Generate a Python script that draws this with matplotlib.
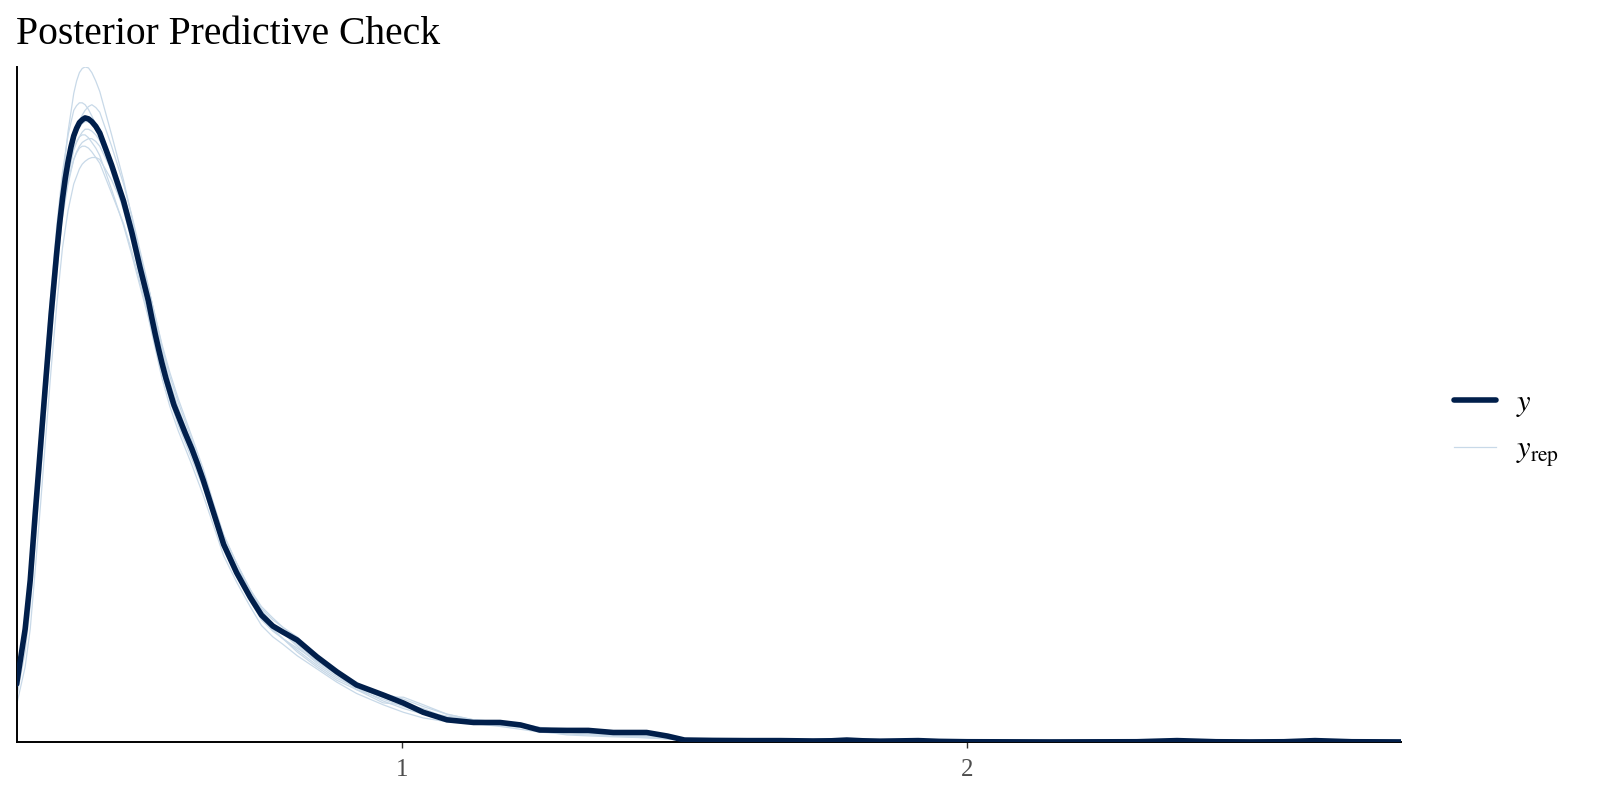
import matplotlib
matplotlib.use("Agg")
import matplotlib.pyplot as plt
from matplotlib.lines import Line2D

plt.rcParams["font.family"] = ["Liberation Serif", "DejaVu Serif"]
plt.rcParams["mathtext.fontset"] = "stix"

# observed density (y)
y_x = [0.319, 0.334, 0.343, 0.352, 0.361, 0.370, 0.380, 0.390, 0.395, 0.400,
       0.405, 0.410, 0.415, 0.420, 0.425, 0.430, 0.435, 0.440, 0.446, 0.452,
       0.459, 0.466, 0.476, 0.487, 0.498, 0.508, 0.523, 0.537, 0.552, 0.558,
       0.564, 0.570, 0.576, 0.583, 0.590, 0.597, 0.605, 0.617, 0.629, 0.639,
       0.649, 0.667, 0.685, 0.708, 0.732, 0.752, 0.772, 0.790, 0.815, 0.850,
       0.885, 0.920, 0.967, 1.003, 1.038, 1.080, 1.127, 1.174, 1.210, 1.244,
       1.292, 1.330, 1.374, 1.433, 1.470, 1.500, 1.550, 1.610, 1.670, 1.727,
       1.760, 1.787, 1.815, 1.846, 1.913, 1.950, 2.000, 2.147, 2.300, 2.371,
       2.440, 2.500, 2.560, 2.615, 2.680, 2.767]
y_dens = [0.31, 0.60, 0.86, 1.22, 1.56, 1.90, 2.27, 2.60, 2.75, 2.88,
          2.99, 3.08, 3.155, 3.215, 3.255, 3.285, 3.30, 3.31, 3.305, 3.29,
          3.265, 3.23, 3.15, 3.06, 2.96, 2.87, 2.70, 2.52, 2.34, 2.25,
          2.165, 2.085, 2.01, 1.93, 1.86, 1.79, 1.73, 1.64, 1.555, 1.475,
          1.39, 1.22, 1.05, 0.90, 0.77, 0.675, 0.617, 0.585, 0.543, 0.454,
          0.375, 0.305, 0.252, 0.209, 0.16, 0.12, 0.106, 0.106, 0.093, 0.066,
          0.064, 0.064, 0.053, 0.053, 0.034, 0.013, 0.011, 0.010, 0.010, 0.008,
          0.009, 0.013, 0.009, 0.007, 0.010, 0.006, 0.004, 0.003, 0.004, 0.010,
          0.004, 0.003, 0.004, 0.010, 0.004, 0.003]

# replicated densities (yrep), common grid
rep_x = [0.319, 0.334, 0.343, 0.352, 0.361, 0.370, 0.380, 0.390, 0.400, 0.410,
         0.420, 0.425, 0.430, 0.435, 0.440, 0.446, 0.452, 0.459, 0.466, 0.487,
         0.508, 0.523, 0.537, 0.552,
         0.564, 0.576, 0.590, 0.605, 0.629, 0.649, 0.667, 0.685, 0.708, 0.732,
         0.752, 0.772, 0.790, 0.815, 0.850, 0.885, 0.920, 0.967, 1.003, 1.038,
         1.080, 1.127, 1.174, 1.210, 1.244, 1.292, 1.330, 1.374, 1.433, 1.470,
         1.500, 1.550, 1.610, 1.670, 1.730, 1.800, 1.900]
rep1 = [0.28, 0.55, 0.80, 1.15, 1.50, 1.86, 2.26, 2.64, 2.98, 3.24,
        3.44, 3.505, 3.55, 3.572, 3.58, 3.575, 3.55, 3.505, 3.45, 3.22,
        2.98, 2.78, 2.58, 2.38,
        2.18, 2.00, 1.82, 1.68, 1.50, 1.35, 1.19, 1.03, 0.89, 0.77,
        0.68, 0.62, 0.58, 0.53, 0.45, 0.37, 0.30, 0.24, 0.20, 0.16,
        0.125, 0.105, 0.095, 0.085, 0.075, 0.062, 0.052, 0.045, 0.035, 0.025,
        0.018, 0.012, 0.008, 0.005, 0.004, 0.003, 0.002]
rep2 = [0.33, 0.64, 0.92, 1.30, 1.66, 2.02, 2.40, 2.74, 3.02, 3.22,
        3.35, 3.375, 3.39, 3.39, 3.38, 3.355, 3.32, 3.275, 3.22, 3.02,
        2.82, 2.65, 2.47, 2.29,
        2.12, 1.97, 1.82, 1.70, 1.53, 1.38, 1.22, 1.06, 0.92, 0.79,
        0.70, 0.63, 0.58, 0.52, 0.43, 0.36, 0.30, 0.24, 0.21, 0.17,
        0.13, 0.11, 0.10, 0.09, 0.075, 0.06, 0.05, 0.04, 0.03, 0.02,
        0.015, 0.01, 0.006, 0.004, 0.003, 0.002, 0.001]
rep3 = [0.24, 0.48, 0.72, 1.06, 1.40, 1.75, 2.13, 2.48, 2.80, 3.02,
        3.18, 3.24, 3.29, 3.325, 3.35, 3.37, 3.38, 3.365, 3.34, 3.16,
        2.96, 2.79, 2.61, 2.42,
        2.24, 2.07, 1.90, 1.77, 1.58, 1.41, 1.24, 1.08, 0.93, 0.81,
        0.72, 0.66, 0.61, 0.56, 0.46, 0.38, 0.31, 0.26, 0.23, 0.19,
        0.15, 0.12, 0.10, 0.085, 0.07, 0.055, 0.045, 0.04, 0.03, 0.02,
        0.015, 0.01, 0.007, 0.005, 0.004, 0.003, 0.002]
rep4 = [0.29, 0.58, 0.84, 1.19, 1.53, 1.87, 2.24, 2.57, 2.86, 3.05,
        3.19, 3.23, 3.26, 3.28, 3.29, 3.29, 3.28, 3.255, 3.22, 3.06,
        2.89, 2.73, 2.56, 2.38,
        2.21, 2.04, 1.88, 1.74, 1.56, 1.39, 1.21, 1.04, 0.88, 0.75,
        0.65, 0.59, 0.55, 0.50, 0.43, 0.36, 0.28, 0.21, 0.20, 0.18,
        0.13, 0.10, 0.085, 0.07, 0.055, 0.045, 0.04, 0.035, 0.03, 0.02,
        0.015, 0.01, 0.006, 0.004, 0.003, 0.002, 0.001]
rep5 = [0.31, 0.60, 0.86, 1.21, 1.54, 1.87, 2.22, 2.54, 2.82, 3.00,
        3.14, 3.18, 3.21, 3.235, 3.25, 3.25, 3.24, 3.22, 3.19, 3.05,
        2.90, 2.75, 2.58, 2.41,
        2.25, 2.08, 1.91, 1.77, 1.57, 1.40, 1.22, 1.06, 0.91, 0.77,
        0.67, 0.60, 0.55, 0.49, 0.41, 0.34, 0.29, 0.24, 0.24, 0.20,
        0.15, 0.12, 0.11, 0.10, 0.08, 0.06, 0.05, 0.04, 0.035, 0.025,
        0.02, 0.014, 0.009, 0.006, 0.004, 0.003, 0.002]
rep6 = [0.32, 0.61, 0.87, 1.22, 1.55, 1.87, 2.21, 2.51, 2.78, 2.96,
        3.09, 3.13, 3.16, 3.18, 3.19, 3.20, 3.20, 3.185, 3.16, 3.03,
        2.88, 2.74, 2.58, 2.41,
        2.26, 2.10, 1.94, 1.80, 1.60, 1.43, 1.26, 1.10, 0.95, 0.81,
        0.70, 0.63, 0.58, 0.51, 0.42, 0.35, 0.29, 0.22, 0.18, 0.15,
        0.13, 0.12, 0.11, 0.095, 0.08, 0.065, 0.05, 0.04, 0.03, 0.022,
        0.016, 0.011, 0.007, 0.005, 0.004, 0.003, 0.002]
rep7 = [0.36, 0.66, 0.92, 1.28, 1.61, 1.93, 2.27, 2.57, 2.82, 2.98,
        3.09, 3.125, 3.15, 3.16, 3.16, 3.15, 3.13, 3.10, 3.07, 2.91,
        2.75, 2.60, 2.44, 2.27,
        2.11, 1.96, 1.81, 1.69, 1.52, 1.37, 1.21, 1.05, 0.90, 0.77,
        0.67, 0.60, 0.55, 0.48, 0.40, 0.33, 0.28, 0.23, 0.19, 0.16,
        0.14, 0.12, 0.10, 0.085, 0.06, 0.04, 0.035, 0.03, 0.025, 0.02,
        0.015, 0.01, 0.007, 0.005, 0.003, 0.002, 0.001]
rep8 = [0.20, 0.40, 0.60, 0.92, 1.25, 1.60, 1.98, 2.32, 2.62, 2.82,
        2.96, 3.00, 3.04, 3.065, 3.08, 3.093, 3.10, 3.10, 3.09, 2.98,
        2.84, 2.72, 2.57, 2.41,
        2.26, 2.11, 1.96, 1.82, 1.62, 1.45, 1.27, 1.10, 0.95, 0.81,
        0.71, 0.65, 0.61, 0.55, 0.45, 0.37, 0.30, 0.24, 0.20, 0.16,
        0.13, 0.11, 0.10, 0.09, 0.075, 0.06, 0.05, 0.04, 0.03, 0.022,
        0.016, 0.011, 0.007, 0.005, 0.004, 0.003, 0.002]
rep9 = [0.28, 0.56, 0.82, 1.17, 1.51, 1.85, 2.21, 2.53, 2.83, 3.02,
        3.15, 3.185, 3.21, 3.22, 3.22, 3.205, 3.18, 3.15, 3.11, 2.93,
        2.74, 2.58, 2.42, 2.25,
        2.09, 1.93, 1.78, 1.65, 1.47, 1.31, 1.15, 0.99, 0.85, 0.72,
        0.62, 0.56, 0.52, 0.46, 0.39, 0.32, 0.26, 0.20, 0.16, 0.13,
        0.11, 0.10, 0.09, 0.08, 0.07, 0.055, 0.045, 0.035, 0.025, 0.018,
        0.012, 0.008, 0.005, 0.003, 0.002, 0.001, 0.001]
reps = [rep1, rep2, rep3, rep4, rep5, rep6, rep7, rep8, rep9]

x_ticks = [1, 2]
dark = "#011f4b"
light = "#c8d9e8"

fig = plt.figure(figsize=(16, 8), dpi=100)
ax = fig.add_axes([0.0104, 0.0719, 0.8652, 0.8444])

for r in reps:
    ax.plot(rep_x, r, color=light, lw=0.9, zorder=2, solid_joinstyle="round")
ax.plot(y_x, y_dens, color=dark, lw=4.0, zorder=3,
        solid_joinstyle="round", solid_capstyle="round")

ax.set_xlim(min(y_x), max(y_x))
ax.set_ylim(0, max(max(r) for r in reps))

for s in ["top", "right"]:
    ax.spines[s].set_visible(False)
for s in ["left", "bottom"]:
    ax.spines[s].set_linewidth(1.4)
    ax.spines[s].set_color("black")

ax.set_yticks([])
ax.set_xticks(x_ticks)
ax.set_xticklabels([str(t) for t in x_ticks])
ax.tick_params(axis="x", length=4, width=1, color="#333333",
               labelcolor="#4d4d4d", labelsize=18, pad=8)

fig.text(0.0098, 0.945, "Posterior Predictive Check", fontsize=28.5,
         ha="left", va="baseline")

handles = [Line2D([], [], color=dark, lw=4.0, solid_capstyle="round"),
           Line2D([], [], color=light, lw=0.9)]
fig.legend(handles, ["$y$", "$y_{\\rm rep}$"], loc="center left",
           bbox_to_anchor=(0.909, 0.464), frameon=False, fontsize=22,
           handlelength=1.35, handletextpad=0.65, labelspacing=0.55,
           borderpad=0, borderaxespad=0)

fig.savefig("out.png", dpi=100)
